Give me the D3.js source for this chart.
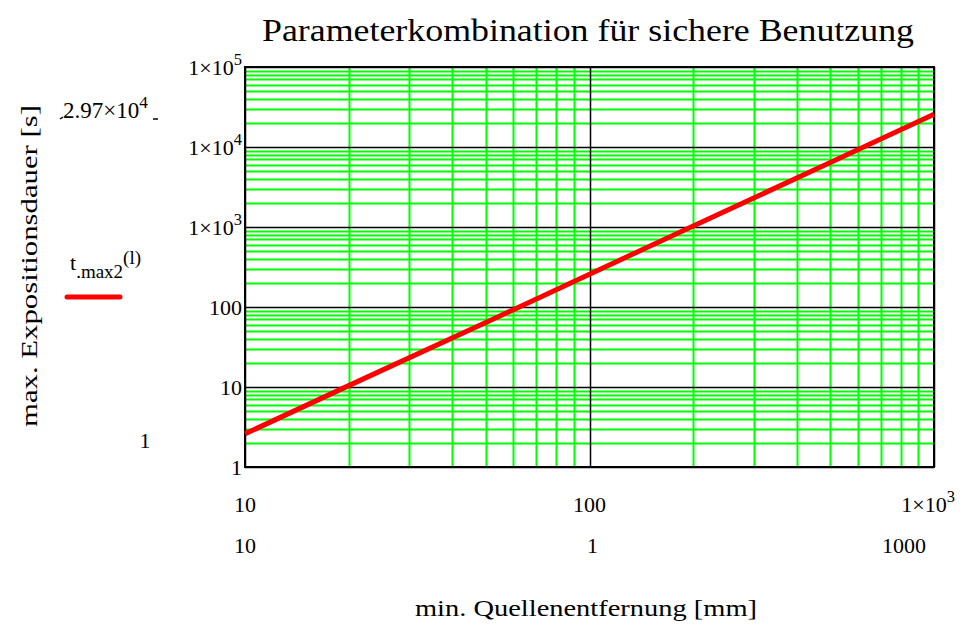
<!DOCTYPE html>
<html>
<head>
<meta charset="utf-8">
<script src="https://cdn.jsdelivr.net/npm/d3@7"></script>
<style>
  body { margin: 0; background: #fff; }
  svg text { font-family: "Liberation Serif", "Times New Roman", Times, serif; fill: #000; }
</style>
</head>
<body>
<svg id="chart"></svg>
<script>
// data
const distanceMm = [10, 20, 50, 100, 200, 500, 1000];
const tMax2 = [2.6, 10.4, 64, 257, 1030, 6400, 25700];
const xMajor = [10, 100, 1000];
const yMajor = [1, 10, 100, 1e3, 1e4, 1e5];
const xTickLabels = ['10', '100', '1×10|3'];
const yTickLabels = ['1', '10', '100', '1×10|3', '1×10|4', '1×10|5'];
const xMarkerLabels = ['10', '1', '1000'];

const margin = { top: 67, right: 33, bottom: 159, left: 245 };
const width = 967 - margin.left - margin.right;
const height = 626 - margin.top - margin.bottom;
const serif = '"Liberation Serif", "Times New Roman", Times, serif';

const svg = d3.select('#chart')
  .attr('width', 967)
  .attr('height', 626)
  .style('font-family', serif);

const g = svg.append('g')
  .attr('transform', `translate(${margin.left},${margin.top})`);

const x = d3.scaleLog().domain([10, 1000]).range([0, width]);
const y = d3.scaleLog().domain([1, 1e5]).range([height, 0]);

// minor ticks: 2..9 in each decade
const minorX = [];
[10, 100].forEach(d => { for (let k = 2; k <= 9; k++) minorX.push(d * k); });
const minorY = [];
[1, 10, 100, 1e3, 1e4].forEach(d => { for (let k = 2; k <= 9; k++) minorY.push(d * k); });

const px = v => Math.round(v) + 0.5;

// green minor grid
g.append('g')
  .selectAll('line')
  .data(minorX)
  .enter()
  .append('line')
  .attr('x1', d => px(x(d))).attr('x2', d => px(x(d)))
  .attr('y1', 0).attr('y2', height)
  .attr('stroke', '#00ff00')
  .attr('stroke-width', 2);

g.append('g')
  .selectAll('line')
  .data(minorY)
  .enter()
  .append('line')
  .attr('x1', 0).attr('x2', width)
  .attr('y1', d => px(y(d))).attr('y2', d => px(y(d)))
  .attr('stroke', '#00ff00')
  .attr('stroke-width', 2);

// black major grid
g.append('g')
  .selectAll('line')
  .data(xMajor)
  .enter()
  .append('line')
  .attr('x1', d => px(x(d))).attr('x2', d => px(x(d)))
  .attr('y1', 0).attr('y2', height)
  .attr('stroke', '#000')
  .attr('stroke-width', 1.5);

g.append('g')
  .selectAll('line')
  .data(yMajor)
  .enter()
  .append('line')
  .attr('x1', 0).attr('x2', width)
  .attr('y1', d => px(y(d))).attr('y2', d => px(y(d)))
  .attr('stroke', '#000')
  .attr('stroke-width', 1.5);

// frame
g.append('rect')
  .attr('width', width)
  .attr('height', height)
  .attr('fill', 'none')
  .attr('stroke', '#000')
  .attr('stroke-width', 2);

// curve
const line = d3.line()
  .x(d => x(d[0]))
  .y(d => y(d[1]));

g.append('path')
  .datum(distanceMm.map((d, i) => [d, tMax2[i]]))
  .attr('fill', 'none')
  .attr('stroke', '#ff0000')
  .attr('stroke-width', 5)
  .attr('d', line);

// label with optional superscript, "base|exp"
function powLabel(sel, str, size) {
  const parts = str.split('|');
  sel.append('tspan').text(parts[0]);
  if (parts[1]) {
    sel.append('tspan')
      .attr('dy', -size * 0.45)
      .style('font-size', (size * 0.75) + 'px')
      .text(parts[1]);
  }
}

// y tick labels
yMajor.forEach((d, i) => {
  const t = g.append('text')
    .attr('x', -3)
    .attr('y', y(d) + 8)
    .attr('text-anchor', 'end')
    .style('font-size', '22px');
  powLabel(t, yTickLabels[i], 22);
});

// x tick labels
xMajor.forEach((d, i) => {
  const t = g.append('text')
    .attr('x', i === 2 ? x(d) + 21 : x(d))
    .attr('y', height + 45)
    .attr('text-anchor', i === 2 ? 'end' : 'middle')
    .style('font-size', '22px');
  powLabel(t, xTickLabels[i], 22);
});

// x marker labels (second row)
xMajor.forEach((d, i) => {
  g.append('text')
    .attr('x', i === 2 ? x(d) - 30 : x(d) + (i === 1 ? 3 : 0))
    .attr('y', height + 86)
    .attr('text-anchor', 'middle')
    .style('font-size', '22px')
    .text(xMarkerLabels[i]);
});

// title
svg.append('text')
  .attr('x', 588)
  .attr('y', 41)
  .attr('text-anchor', 'middle')
  .style('font-size', '31px')
  .attr('textLength', 652)
  .attr('lengthAdjust', 'spacingAndGlyphs')
  .text('Parameterkombination für sichere Benutzung');

// x axis title
svg.append('text')
  .attr('x', 586)
  .attr('y', 616)
  .attr('text-anchor', 'middle')
  .style('font-size', '24px')
  .attr('textLength', 342)
  .attr('lengthAdjust', 'spacingAndGlyphs')
  .text('min. Quellenentfernung [mm]');

// y axis title
svg.append('text')
  .attr('transform', 'translate(37,266) rotate(-90)')
  .attr('text-anchor', 'middle')
  .style('font-size', '24px')
  .attr('textLength', 322)
  .attr('lengthAdjust', 'spacingAndGlyphs')
  .text('max. Expositionsdauer [s]');

// y marker label 2.97x10^4
const mk = svg.append('text')
  .attr('x', 63)
  .attr('y', 118)
  .style('font-size', '23px');
powLabel(mk, '2.97×10|4', 23);
svg.append('line').attr('x1', 60).attr('x2', 63).attr('y1', 119).attr('y2', 117)
  .attr('stroke', '#000').attr('stroke-width', 1.5);
svg.append('line').attr('x1', 153).attr('x2', 158).attr('y1', 119).attr('y2', 119)
  .attr('stroke', '#000').attr('stroke-width', 1.5);

// other marker label
svg.append('text')
  .attr('x', 145)
  .attr('y', 448)
  .attr('text-anchor', 'middle')
  .style('font-size', '22px')
  .text('1');

// legend
const lg = svg.append('text')
  .attr('x', 70)
  .attr('y', 270)
  .style('font-size', '22px');
lg.append('tspan').text('t');
lg.append('tspan').attr('dy', 8).style('font-size', '19px').text('.max2');
lg.append('tspan').attr('dy', -14).style('font-size', '19px').text('(l)');

svg.append('line')
  .attr('x1', 67).attr('x2', 120)
  .attr('y1', 297).attr('y2', 297)
  .attr('stroke', '#ff0000')
  .attr('stroke-width', 5)
  .attr('stroke-linecap', 'round');
</script>
</body>
</html>
